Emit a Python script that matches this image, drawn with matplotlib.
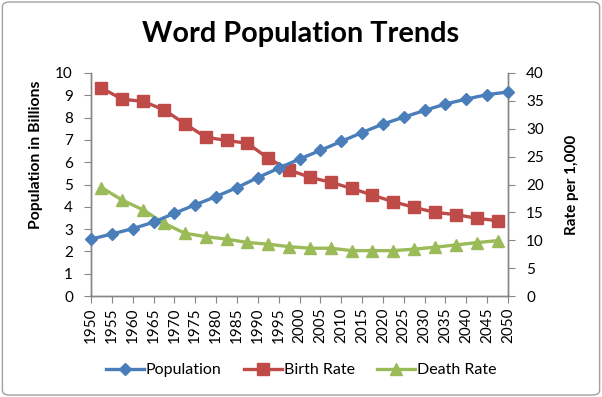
import matplotlib.pyplot as plt
from matplotlib.patches import FancyBboxPatch
from matplotlib.lines import Line2D

plt.rcParams['font.family'] = ['Lato', 'DejaVu Sans']

# data
years = [1950, 1955, 1960, 1965, 1970, 1975, 1980, 1985, 1990, 1995, 2000,
         2005, 2010, 2015, 2020, 2025, 2030, 2035, 2040, 2045, 2050]
population = [2.55, 2.78, 3.02, 3.31, 3.71, 4.09, 4.46, 4.86, 5.31, 5.73, 6.14,
              6.53, 6.93, 7.33, 7.71, 8.02, 8.32, 8.61, 8.83, 9.03, 9.15]

# rates are given for the middle of each 5 year period
rate_years = [1952.5, 1957.5, 1962.5, 1967.5, 1972.5, 1977.5, 1982.5, 1987.5,
              1992.5, 1997.5, 2002.5, 2007.5, 2012.5, 2017.5, 2022.5, 2027.5,
              2032.5, 2037.5, 2042.5, 2047.5]
birth_rate = [37.3, 35.3, 34.9, 33.4, 30.9, 28.5, 27.9, 27.4, 24.7, 22.6,
              21.3, 20.4, 19.3, 18.1, 16.9, 15.9, 15.0, 14.6, 13.95, 13.5]
death_rate = [19.45, 17.2, 15.45, 13.05, 11.26, 10.65, 10.2, 9.6, 9.3, 8.85,
              8.57, 8.57, 8.14, 8.14, 8.14, 8.4, 8.75, 9.16, 9.57, 9.93]

blue = '#4A7EBB'
red = '#BE4B48'
green = '#9BBB59'
axis_gray = '#868686'

fig = plt.figure(figsize=(6.02, 3.97), dpi=100)

# chart border
frame = FancyBboxPatch((0.004, 0.005), 0.992, 0.99, boxstyle='round,pad=0,rounding_size=0.012',
                       transform=fig.transFigure, facecolor='none',
                       edgecolor='#A0A0A0', linewidth=1.0, zorder=-1)
fig.patches.append(frame)

ax = fig.add_axes([91 / 602, 101 / 397, 417 / 602, 223 / 397])
ax2 = ax.twinx()

ax.plot(years, population, color=blue, lw=2.4, marker='D', ms=6.5,
        markeredgecolor=blue, zorder=3, clip_on=False)
ax2.plot(rate_years, birth_rate, color=red, lw=2.4, marker='s', ms=8,
         markeredgecolor=red, clip_on=False)
ax2.plot(rate_years, death_rate, color=green, lw=2.4, marker='^', ms=8.5,
         markeredgecolor=green, clip_on=False)

ax.set_xlim(1950, 2050)
ax.set_ylim(0, 10)
ax2.set_ylim(0, 40)
ax.set_xticks(years)
ax.set_xticklabels([str(y) for y in years], rotation=90, fontsize=11)
ax.set_yticks(range(0, 11))
ax2.set_yticks(range(0, 41, 5))
ax.tick_params(axis='y', labelsize=11, length=5, color=axis_gray, pad=8)
ax2.tick_params(axis='y', labelsize=11, length=5, color=axis_gray, pad=8)
ax.tick_params(axis='x', length=5, color=axis_gray, pad=3)

for a in (ax, ax2):
    a.spines['top'].set_visible(False)
    for s in ('left', 'right', 'bottom'):
        a.spines[s].set_color(axis_gray)
        a.spines[s].set_linewidth(1.0)
ax2.set_zorder(ax.get_zorder() - 1)
ax.patch.set_visible(False)

ax.set_ylabel('Population in Billions', fontsize=11.3, fontweight='bold',
              labelpad=9, y=0.632)
ax2.set_ylabel('Rate per 1,000', fontsize=11, fontweight='bold', labelpad=15)

fig.text(0.5, 0.915, 'Word Population Trends', ha='center', va='center',
         fontsize=20.8, fontweight='bold')

handles = [
    Line2D([], [], color=blue, lw=2.4, marker='D', ms=6.5),
    Line2D([], [], color=red, lw=2.4, marker='s', ms=8),
    Line2D([], [], color=green, lw=2.4, marker='^', ms=8.5),
]
fig.legend(handles, ['Population', 'Birth Rate', 'Death Rate'], loc='center',
           bbox_to_anchor=(0.5, 0.068), ncol=3, frameon=False, fontsize=11.5,
           handlelength=2.4, handletextpad=0.1, columnspacing=1.4)

fig.savefig('out.png', dpi=100)
